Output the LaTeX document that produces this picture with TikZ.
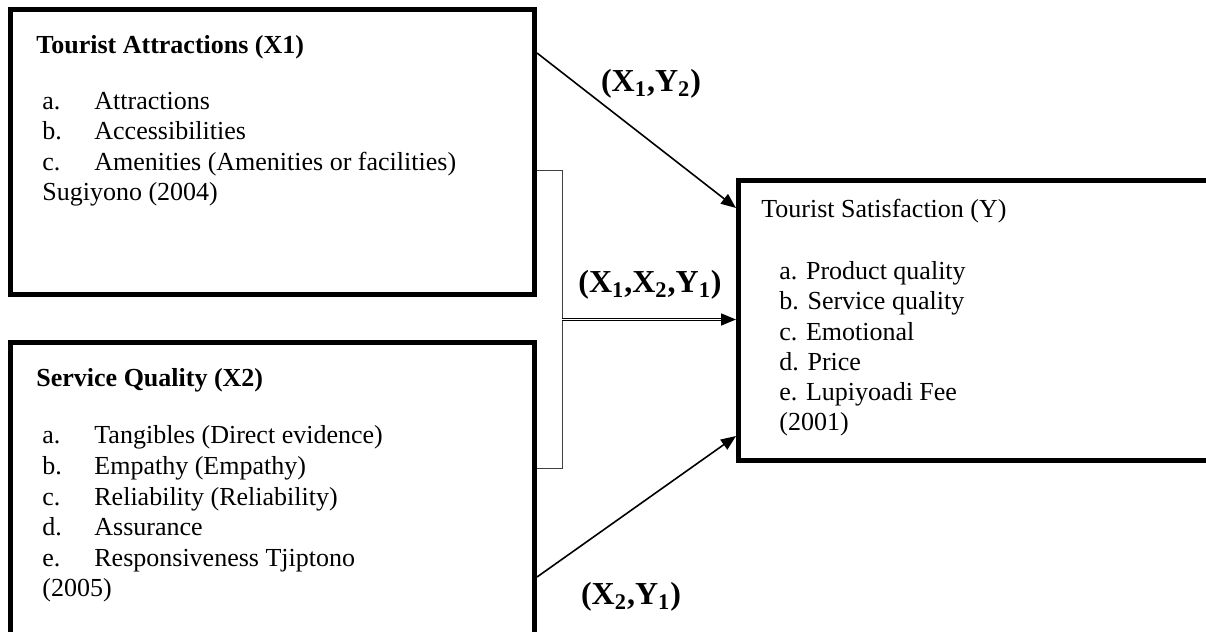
\documentclass[tikz,border=0pt]{standalone}
\usepackage{fontspec}
\setmainfont{Liberation Serif}
\usetikzlibrary{arrows.meta,calc}
\begin{document}
\begin{tikzpicture}[x=0.5pt,y=-0.5pt,
  box/.style={draw=black,line width=2.5pt,rectangle,inner sep=0pt},
  txt/.style={anchor=base west,inner sep=0pt,font=\fontsize{13}{15}\selectfont},
  ttl/.style={txt,font=\fontsize{13}{15}\selectfont\bfseries},
  lbl/.style={inner sep=0pt,font=\fontsize{16}{19}\selectfont\bfseries},
  arr/.style={line width=0.8pt,-{Triangle[length=7.5pt,width=6pt]}},
  brk/.style={line width=0.5pt,draw=black!75}]
\useasboundingbox (0,0) rectangle (1206,632);
% boxes
\node[box,minimum width=262.25pt,minimum height=142.5pt] (X1) at (272.25,152) {};
\node[box,minimum width=262.25pt,minimum height=153.75pt] (X2) at (272.25,496.25) {};
\node[box,minimum width=240.75pt,minimum height=139.75pt] (Y) at (979.25,320.25) {};
% X1 texts
\node[ttl] (x1t) at (36,53) {Tourist Attractions (X1)};
\node[txt] (x1a) at (42,109) {\makebox[26pt][l]{a.}Attractions};
\node[txt] (x1b) at (42,139) {\makebox[26pt][l]{b.}Accessibilities};
\node[txt] (x1c) at (42,170) {\makebox[26pt][l]{c.}Amenities (Amenities or facilities)};
\node[txt] (x1d) at (42,200) {Sugiyono (2004)};
% X2 texts
\node[ttl] (x2t) at (36,386) {Service Quality (X2)};
\node[txt] (x2a) at (42,443) {\makebox[26pt][l]{a.}Tangibles (Direct evidence)};
\node[txt] (x2b) at (42,474) {\makebox[26pt][l]{b.}Empathy (Empathy)};
\node[txt] (x2c) at (42,505) {\makebox[26pt][l]{c.}Reliability (Reliability)};
\node[txt] (x2d) at (42,535) {\makebox[26pt][l]{d.}Assurance};
\node[txt] (x2e) at (42,566) {\makebox[26pt][l]{e.}Responsiveness Tjiptono};
\node[txt] (x2f) at (42,596) {(2005)};
% Y texts
\node[txt] (yt) at (761,217) {Tourist Satisfaction (Y)};
\node[txt] (ya) at (779,279) {a. Product quality};
\node[txt] (yb) at (779,309.5) {b. Service quality};
\node[txt] (yc) at (779,340) {c. Emotional};
\node[txt] (yd) at (779,370) {d. Price};
\node[txt] (ye) at (779,400) {e. Lupiyoadi Fee};
\node[txt] (yf) at (779,430.5) {(2001)};
% bracket
\coordinate (bt) at (562,170);
\coordinate (bb) at (562,468);
\coordinate (bm) at (562,319.5);
\draw[brk] (X1.east |- bt) -- (bt) -- (bb) -- (X2.east |- bb);
% arrows
\coordinate (a1s) at (0,53);
\coordinate (a1e) at (0,208);
\coordinate (a3s) at (0,577);
\coordinate (a3e) at (0,436);
\draw[arr] (X1.east |- a1s) -- (Y.west |- a1e);
\draw[line width=0.45pt,double,double distance=0.7pt] (bm) -- ($(Y.west |- bm)+(-12,0)$);
\draw[arr] ($(Y.west |- bm)+(-14,0)$) -- (Y.west |- bm);
\draw[arr] (X2.east |- a3s) -- (Y.west |- a3e);
% labels
\node[lbl] (l1) at (651,84) {(X\textsubscript{1},Y\textsubscript{2})};
\node[lbl] (l2) at (650,285) {(X\textsubscript{1},X\textsubscript{2},Y\textsubscript{1})};
\node[lbl] (l3) at (631,597) {(X\textsubscript{2},Y\textsubscript{1})};
\end{tikzpicture}
\end{document}
